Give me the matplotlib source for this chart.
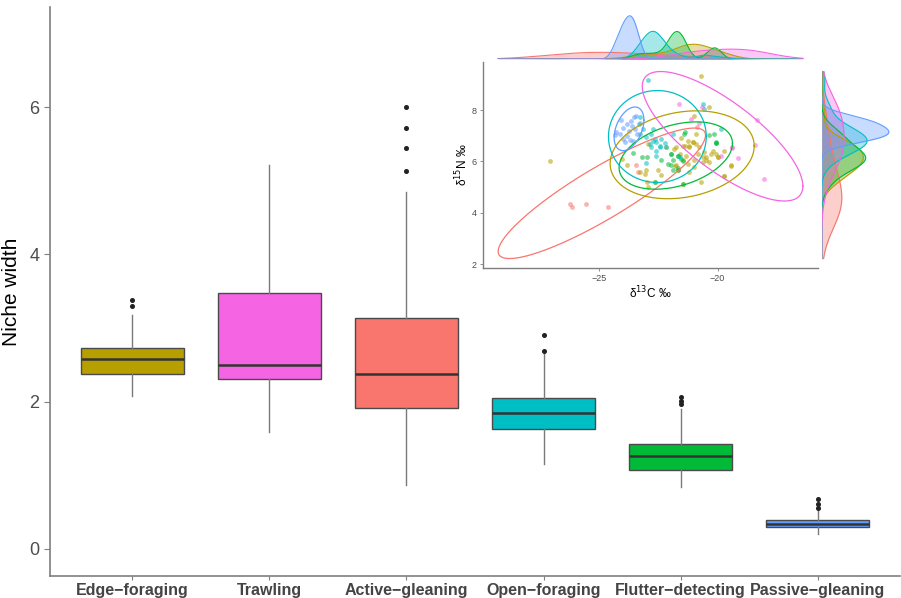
import numpy as np
import matplotlib.pyplot as plt

plt.rcParams['font.family'] = ['Liberation Sans', 'DejaVu Sans']

# ---- niche width boxplot ----
guilds = ['Edge−foraging', 'Trawling', 'Active−gleaning', 'Open−foraging',
          'Flutter−detecting', 'Passive−gleaning']
guild_cols = ['#B79F00', '#F564E3', '#F8766D', '#00BFC4', '#00BA38', '#619CFF']
q1 = [2.37, 2.31, 1.91, 1.63, 1.07, 0.295]
med = [2.58, 2.50, 2.37, 1.84, 1.26, 0.34]
q3 = [2.73, 3.47, 3.13, 2.05, 1.42, 0.39]
whislo = [2.07, 1.59, 0.86, 1.15, 0.84, 0.20]
whishi = [3.17, 5.22, 4.85, 2.65, 1.90, 0.51]
fliers = [[3.30, 3.38], [], [5.14, 5.45, 5.72, 6.0], [2.69, 2.91],
          [1.96, 2.01, 2.06], [0.55, 0.61, 0.67]]

# ---- isotope data (d13C, d15N) by guild, alphabetical level order ----
iso_groups = ['Active-gleaning', 'Edge-foraging', 'Flutter-detecting',
              'Open-foraging', 'Passive-gleaning', 'Trawling']
iso_cols = ['#F8766D', '#B79F00', '#00BA38', '#00BFC4', '#619CFF', '#F564E3']

d13c_active = [-26.23, -26.15, -25.56, -24.65, -23.46, -23.36, -20.87]
d15n_active = [4.33, 4.21, 4.36, 4.21, 5.85, 5.57, 7.35]

d13c_edge = [-21.40, -21.19, -20.91, -20.77, -21.05, -21.33, -21.61, -21.47, -21.26,
             -21.75, -20.98, -20.84, -20.63, -20.49, -20.35, -20.56, -20.28, -20.21,
             -20.07, -20.00, -21.19, -20.98, -20.70, -21.47, -19.72, -19.44, -21.86,
             -21.68, -24.06, -23.85, -23.29, -23.08, -23.04, -22.98, -22.94, -22.66,
             -22.52, -22.38, -22.17, -21.82, -21.75, -20.70, -20.38, -20.98, -20.91,
             -21.26, -21.47, -21.05, -21.54, -21.19, -27.10, -20.00, -19.72, -19.44,
             -19.72, -22.94, -20.63, -20.49]
d15n_edge = [6.62, 6.55, 6.68, 6.58, 6.74, 6.23, 6.30, 6.04, 5.91,
             5.85, 6.04, 6.30, 5.97, 6.17, 5.97, 6.36, 6.30, 6.42,
             6.30, 6.17, 5.59, 5.78, 5.20, 5.14, 5.42, 5.81, 6.49,
             5.65, 6.10, 5.85, 5.59, 5.53, 5.68, 5.20, 5.01, 5.20,
             5.65, 5.46, 6.58, 5.81, 6.55, 9.31, 8.12, 7.77, 7.07,
             6.81, 6.62, 6.74, 6.91, 6.62, 6.01, 6.17, 6.42, 5.85,
             5.44, 6.68, 6.17, 6.04]

d13c_flutter = [-23.57, -23.22, -22.98, -21.96, -22.10, -21.68, -21.89, -21.68, -21.40,
                -21.44, -20.14, -20.07, -20.07, -21.96, -21.68, -21.89, -21.47, -21.68,
                -21.96, -21.47, -22.66, -20.07, -20.35, -21.55, -22.40]
d15n_flutter = [6.33, 6.19, 6.19, 6.29, 5.91, 6.23, 5.65, 5.73, 7.13,
                7.07, 7.07, 6.72, 6.70, 6.29, 6.23, 6.04, 6.01, 5.65,
                5.88, 5.14, 5.21, 6.74, 7.04, 6.10, 6.05]

d13c_open = [-22.94, -23.29, -23.32, -23.15, -22.73, -23.01, -22.73, -22.45, -22.17,
             -22.59, -22.87, -22.38, -21.89, -22.66, -22.80, -20.63, -20.56, -21.61,
             -23.29, -23.04, -22.59, -22.80, -22.60, -22.45, -22.24, -19.86]
d15n_open = [9.18, 7.73, 7.45, 7.26, 7.26, 6.94, 6.78, 6.55, 6.55,
             6.42, 6.68, 6.87, 7.06, 6.87, 7.06, 8.22, 8.06, 6.17,
             7.06, 5.93, 6.23, 6.55, 6.74, 6.62, 6.70, 7.28]

d13c_passive = [-23.54, -23.68, -23.85, -24.02, -23.64, -23.50, -23.74, -24.13, -23.85,
                -23.43, -23.99, -23.71, -24.30, -23.60, -24.34, -23.90, -23.30, -24.10,
                -23.45]
d15n_passive = [7.73, 7.58, 7.45, 7.32, 7.38, 7.26, 7.19, 7.07, 7.00,
                7.07, 6.87, 6.83, 7.13, 6.81, 7.04, 6.75, 7.50, 7.60,
                7.75]

d13c_trawl = [-21.62, -21.12, -20.77, -20.66, -18.34, -19.37, -18.42, -19.86, -19.37,
              -19.12, -18.04]
d15n_trawl = [8.24, 7.64, 7.51, 8.12, 7.61, 6.53, 6.64, 6.23, 6.55,
              6.14, 5.30]

iso_x = [d13c_active, d13c_edge, d13c_flutter, d13c_open, d13c_passive, d13c_trawl]
iso_y = [d15n_active, d15n_edge, d15n_flutter, d15n_open, d15n_passive, d15n_trawl]

# ellipse centre, half extents along each axis and correlation
ell_cx = [-24.90, -21.50, -21.77, -22.55, -23.75, -19.79]
ell_cy = [4.76, 6.26, 6.23, 6.97, 7.27, 6.98]
ell_ax = [4.39, 3.05, 2.40, 2.07, 0.63, 3.40]
ell_ay = [2.54, 1.71, 1.31, 1.79, 0.85, 2.52]
ell_rho = [0.89, 0.20, 0.36, 0.0, 0.40, -0.77]


def ellipse(cx, cy, ax_, ay_, rho):
    t = np.linspace(0, 2 * np.pi, 200)
    x = cx + ax_ * np.cos(t)
    y = cy + ay_ * (rho * np.cos(t) + np.sqrt(1 - rho ** 2) * np.sin(t))
    return x, y


def kde(vals, grid, adjust=1.5):
    vals = np.asarray(vals)
    n = len(vals)
    sd = vals.std(ddof=1)
    iqr = np.subtract(*np.percentile(vals, [75, 25]))
    bw = adjust * 0.9 * min(sd, iqr / 1.34) * n ** -0.2
    z = (grid[:, None] - vals) / bw
    return np.exp(-0.5 * z ** 2).sum(1) / (n * bw * np.sqrt(2 * np.pi))


fig = plt.figure(figsize=(9.01, 5.98), dpi=100)
ax = fig.add_axes([0.0555, 0.037, 0.9435, 0.951])

stats = []
for i in range(len(guilds)):
    stats.append(dict(med=med[i], q1=q1[i], q3=q3[i], whislo=whislo[i],
                      whishi=whishi[i], fliers=fliers[i]))
pos = np.arange(1, len(guilds) + 1)
bp = ax.bxp(stats, positions=pos, widths=0.75, patch_artist=True, showcaps=False,
            boxprops=dict(edgecolor='#4a4a4a', linewidth=1.0),
            medianprops=dict(color='#333333', linewidth=1.8),
            whiskerprops=dict(color='#7a7a7a', linewidth=1.0),
            flierprops=dict(marker='o', markersize=2.6, markerfacecolor='#222222',
                            markeredgecolor='#222222'))
for patch, c in zip(bp['boxes'], guild_cols):
    patch.set_facecolor(c)

ax.set_xlim(0.4, 6.6)
ax.set_ylim(-0.37, 7.36)
ax.set_yticks([0, 2, 4, 6])
ax.set_xticks(pos)
ax.set_xticklabels(guilds, fontsize=11.5, fontweight='bold')
ax.tick_params(axis='y', labelsize=13, colors='#7f7f7f', labelcolor='#4d4d4d',
               length=4, width=0.8)
ax.tick_params(axis='x', colors='#7f7f7f', labelcolor='#444444', length=3,
               width=0.8, pad=2)
ax.set_ylabel('Niche width', fontsize=15, color='black', labelpad=6)
for s in ['top', 'right']:
    ax.spines[s].set_visible(False)
for s in ['left', 'bottom']:
    ax.spines[s].set_color('#7f7f7f')
    ax.spines[s].set_linewidth(1.2)

# ---- inset: biplot with ellipses and marginal densities ----
ells = [ellipse(ell_cx[i], ell_cy[i], ell_ax[i], ell_ay[i], ell_rho[i])
        for i in range(len(iso_groups))]
xmin = min(e[0].min() for e in ells)
xmax = max(e[0].max() for e in ells)
ymin = min(e[1].min() for e in ells)
ymax = max(e[1].max() for e in ells)
xpad = 0.05 * (xmax - xmin)
ypad = 0.05 * (ymax - ymin)

ins = fig.add_axes([0.536, 0.552, 0.372, 0.344])
for i in range(len(iso_groups)):
    ins.scatter(iso_x[i], iso_y[i], s=12, color=iso_cols[i], alpha=0.55, lw=0)
for i in range(len(iso_groups)):
    ins.plot(ells[i][0], ells[i][1], color=iso_cols[i], lw=0.9)
ins.set_xlim(xmin - xpad, xmax + xpad)
ins.set_ylim(ymin - ypad, ymax + ypad)
ins.set_xticks([-25, -20])
ins.set_xticklabels(['−25', '−20'])
ins.set_yticks([2, 4, 6, 8])
ins.tick_params(labelsize=6.5, colors='#7f7f7f', labelcolor='#4d4d4d', length=2.5,
                width=0.6, pad=2)
ins.set_xlabel('δ$^{13}$C ‰', fontsize=8.5, labelpad=1)
ins.set_ylabel('δ$^{15}$N ‰', fontsize=8.5, labelpad=1)
for s in ['top', 'right']:
    ins.spines[s].set_visible(False)
for s in ['left', 'bottom']:
    ins.spines[s].set_color('#7f7f7f')
    ins.spines[s].set_linewidth(1.0)

gx = np.linspace(xmin, xmax, 400)
gy = np.linspace(ymin, ymax, 400)

top = fig.add_axes([0.536, 0.901, 0.372, 0.074])
dmax = 0
for i in range(len(iso_groups)):
    d = kde(iso_x[i], gx)
    dmax = max(dmax, d.max())
    top.fill_between(gx, d, color=iso_cols[i], alpha=0.35, lw=0)
    top.plot(gx, d, color=iso_cols[i], lw=0.8)
top.set_xlim(xmin - xpad, xmax + xpad)
top.set_ylim(0, dmax * 1.02)
top.axis('off')

right = fig.add_axes([0.912, 0.552, 0.076, 0.344])
dmax = 0
for i in range(len(iso_groups)):
    d = kde(iso_y[i], gy)
    dmax = max(dmax, d.max())
    right.fill_betweenx(gy, d, color=iso_cols[i], alpha=0.35, lw=0)
    right.plot(d, gy, color=iso_cols[i], lw=0.8)
right.set_ylim(ymin - ypad, ymax + ypad)
right.set_xlim(0, dmax * 1.02)
right.axis('off')

fig.savefig('out.png', dpi=100)
